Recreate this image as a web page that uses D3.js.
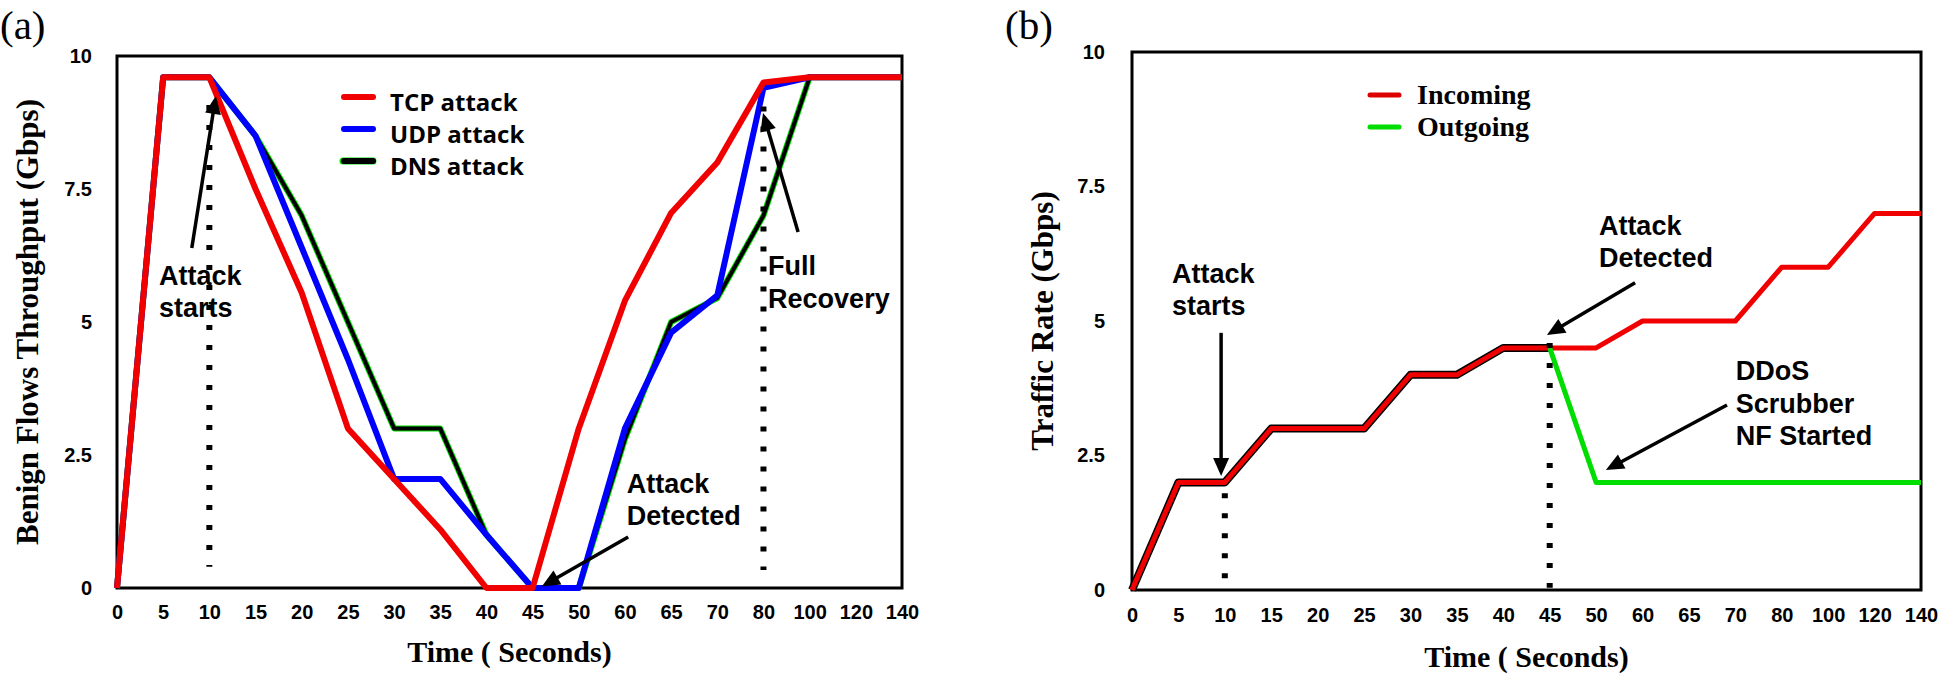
<!DOCTYPE html>
<html><head><meta charset="utf-8">
<script src="https://cdn.jsdelivr.net/npm/d3@7/dist/d3.min.js"></script>
<style>body{margin:0;background:#fff}svg{display:block}</style>
</head><body><svg id="c" width="1944" height="681"></svg>
<script>
// ---- data ----
const timeLabels = ["0","5","10","15","20","25","30","35","40","45","50","60","65","70","80","100","120","140"];
const tcpAttack = [0,9.6,9.6,7.5,5.55,3.0,2.05,1.1,0,0,3.0,5.4,7.05,8.0,9.5,9.6,9.6,9.6];
const udpAttack = [0,9.6,9.6,8.5,6.4,4.3,2.05,2.05,1.0,0,0,3.0,4.8,5.5,9.4,9.6,9.6,9.6];
const dnsAttack = [0,9.6,9.6,8.5,7.0,5.0,3.0,3.0,1.0,0,0,2.8,5.0,5.45,7.0,9.6,9.6,9.6];
const incoming = [0,2,2,3,3,3,4,4,4.5,4.5,4.5,5,5,5,6,6,7,7];
const outgoing = [0,2,2,3,3,3,4,4,4.5,4.5,2,2,2,2,2,2,2,2];
const yTicks = [0,2.5,5,7.5,10];
const legendA = ["TCP attack","UDP attack","DNS attack"];
const legendB = ["Incoming","Outgoing"];

const RED = "#f00000", BLUE = "#0000ff", GREEN = "#00dd00", BLACK = "#000";
const SANS = "'Liberation Sans', Arial, sans-serif";
const SERIF = "'Liberation Serif', 'Times New Roman', serif";

const svg = d3.select("#c");

function makePanel(o) {
  const g = svg.append("g");
  const x = d3.scalePoint().domain(timeLabels).range([o.left, o.right]);
  const xi = d3.scaleLinear().domain([0, timeLabels.length - 1]).range([o.left, o.right]);
  const y = d3.scaleLinear().domain([0, 10]).range([o.bottom, o.top]);

  const ax = g.append("g").attr("transform", `translate(0,${o.bottom})`)
    .call(d3.axisBottom(x).tickSize(0).tickPadding(o.xPad));
  const ay = g.append("g").attr("transform", `translate(${o.left},0)`)
    .call(d3.axisLeft(y).tickValues(yTicks).tickSize(0).tickPadding(o.yPad).tickFormat(d => String(d)));
  [ax, ay].forEach(a => {
    a.select(".domain").remove();
    a.selectAll("text").attr("font-family", SANS).attr("font-weight", "bold")
      .attr("font-size", 20).attr("fill", "#000");
  });

  g.append("rect").attr("x", o.left).attr("y", o.top)
    .attr("width", o.right - o.left).attr("height", o.bottom - o.top)
    .attr("fill", "none").attr("stroke", "#000").attr("stroke-width", 3);

  g.append("text").attr("x", o.label[0]).attr("y", o.label[1]).text(o.labelText)
    .attr("font-family", SERIF).attr("font-size", 41);
  g.append("text").attr("x", (o.left + o.right) / 2).attr("y", o.xTitleY)
    .attr("text-anchor", "middle").attr("font-family", SERIF).attr("font-weight", "bold")
    .attr("font-size", 30).text("Time ( Seconds)");
  g.append("text")
    .attr("transform", `translate(${o.yTitleX},${(o.top + o.bottom) / 2}) rotate(-90)`)
    .attr("text-anchor", "middle").attr("font-family", SERIF).attr("font-weight", "bold")
    .attr("font-size", 31).text(o.yTitle);

  return {g, x, xi, y};
}

function linePath(p, vals, from, to) {
  const pts = vals.map((v, i) => [p.x(timeLabels[i]), p.y(v)]).slice(from, to);
  return d3.line()(pts);
}

function dotted(p, idx, v0, v1) {
  p.g.append("line").attr("x1", p.xi(idx)).attr("x2", p.xi(idx))
    .attr("y1", p.y(v0)).attr("y2", p.y(v1))
    .attr("stroke", "#000").attr("stroke-width", 6).attr("stroke-dasharray", "5 15");
}

function arrow(p, a, b) {
  const x1 = p.xi(a[0]), y1 = p.y(a[1]), x2 = p.xi(b[0]), y2 = p.y(b[1]);
  const dx = x2 - x1, dy = y2 - y1, L = Math.hypot(dx, dy), ux = dx / L, uy = dy / L;
  const hl = 18, hw = 8;
  const bx = x2 - ux * hl, by = y2 - uy * hl;
  p.g.append("line").attr("x1", x1).attr("y1", y1).attr("x2", bx + ux * 2).attr("y2", by + uy * 2)
    .attr("stroke", "#000").attr("stroke-width", 3.5);
  p.g.append("path")
    .attr("d", `M${x2},${y2}L${bx - uy * hw},${by + ux * hw}L${bx + uy * hw},${by - ux * hw}Z`)
    .attr("fill", "#000");
}

function note(p, idx, v, lines) {
  const t = p.g.append("text").attr("x", p.xi(idx)).attr("y", p.y(v))
    .attr("font-family", SANS).attr("font-weight", "bold").attr("font-size", 27).attr("fill", "#000");
  lines.forEach((s, i) => t.append("tspan").attr("x", p.xi(idx)).attr("dy", i ? 32.5 : 0).text(s));
}

// ---- Panel (a) ----
const A = makePanel({left: 117, right: 902, top: 56, bottom: 588, xPad: 17, yPad: 25,
  label: [0, 39], labelText: "(a)", xTitleY: 662, yTitleX: 38,
  yTitle: "Benign Flows Throughput (Gbps)"});

A.g.append("path").attr("d", linePath(A, dnsAttack)).attr("fill", "none")
  .attr("stroke", GREEN).attr("stroke-width", 6).attr("stroke-linejoin", "round");
A.g.append("path").attr("d", linePath(A, dnsAttack)).attr("fill", "none")
  .attr("stroke", BLACK).attr("stroke-width", 4).attr("stroke-linejoin", "round");
A.g.append("path").attr("d", linePath(A, udpAttack)).attr("fill", "none")
  .attr("stroke", BLUE).attr("stroke-width", 6).attr("stroke-linejoin", "round");
A.g.append("path").attr("d", linePath(A, tcpAttack)).attr("fill", "none")
  .attr("stroke", RED).attr("stroke-width", 6).attr("stroke-linejoin", "round");

dotted(A, 2, 9.08, 0.4);
dotted(A, 14, 9.05, 0.34);
arrow(A, [1.62, 6.39], [2.14, 9.25]);
arrow(A, [11.07, 0.96], [9.2, 0.03]);
arrow(A, [14.75, 6.69], [13.99, 8.93]);
note(A, 0.91, 5.70, ["Attack", "starts"]);
note(A, 11.04, 1.79, ["Attack", "Detected"]);
note(A, 14.1, 5.88, ["Full", "Recovery"]);

const legAColors = [RED, BLUE, BLACK];
legendA.forEach((s, i) => {
  const yy = 97 + i * 32;
  if (i === 2) A.g.append("line").attr("x1", 343).attr("x2", 373).attr("y1", yy).attr("y2", yy)
    .attr("stroke", GREEN).attr("stroke-width", 7).attr("stroke-linecap", "round");
  A.g.append("line").attr("x1", 344).attr("x2", 373).attr("y1", yy).attr("y2", yy)
    .attr("stroke", legAColors[i]).attr("stroke-width", 6).attr("stroke-linecap", "round");
  A.g.append("text").attr("x", 390).attr("y", yy + 14).text(s)
    .attr("font-family", "'Open Sans', sans-serif").attr("font-weight", "bold").attr("font-size", 24);
});

// ---- Panel (b) ----
const B = makePanel({left: 1132, right: 1921, top: 52, bottom: 590, xPad: 18, yPad: 27,
  label: [1005, 39], labelText: "(b)", xTitleY: 667, yTitleX: 1053,
  yTitle: "Traffic Rate (Gbps)"});

B.g.append("path").attr("d", linePath(B, outgoing, 0, 10)).attr("fill", "none")
  .attr("stroke", BLACK).attr("stroke-width", 8).attr("stroke-linejoin", "round");
B.g.append("path").attr("d", linePath(B, incoming)).attr("fill", "none")
  .attr("stroke", RED).attr("stroke-width", 5).attr("stroke-linejoin", "round");
B.g.append("path").attr("d", linePath(B, outgoing, 9)).attr("fill", "none")
  .attr("stroke", GREEN).attr("stroke-width", 5).attr("stroke-linejoin", "round");

dotted(B, 2, 1.8, 0.19);
dotted(B, 9, 4.59, 0.04);
arrow(B, [1.92, 4.78], [1.92, 2.12]);
arrow(B, [10.84, 5.71], [8.94, 4.74]);
arrow(B, [12.82, 3.44], [10.21, 2.23]);
note(B, 0.86, 5.71, ["Attack", "starts"]);
note(B, 10.06, 6.60, ["Attack", "Detected"]);
note(B, 13.01, 3.90, ["DDoS", "Scrubber", "NF Started"]);

const legBColors = ["#dd0000", "#00dd00"];
legendB.forEach((s, i) => {
  const yy = 95 + i * 32;
  B.g.append("line").attr("x1", 1370).attr("x2", 1399).attr("y1", yy).attr("y2", yy)
    .attr("stroke", legBColors[i]).attr("stroke-width", 5).attr("stroke-linecap", "round");
  B.g.append("text").attr("x", 1417).attr("y", yy + 9).text(s)
    .attr("font-family", SERIF).attr("font-weight", "bold").attr("font-size", 28);
});
</script></body></html>
